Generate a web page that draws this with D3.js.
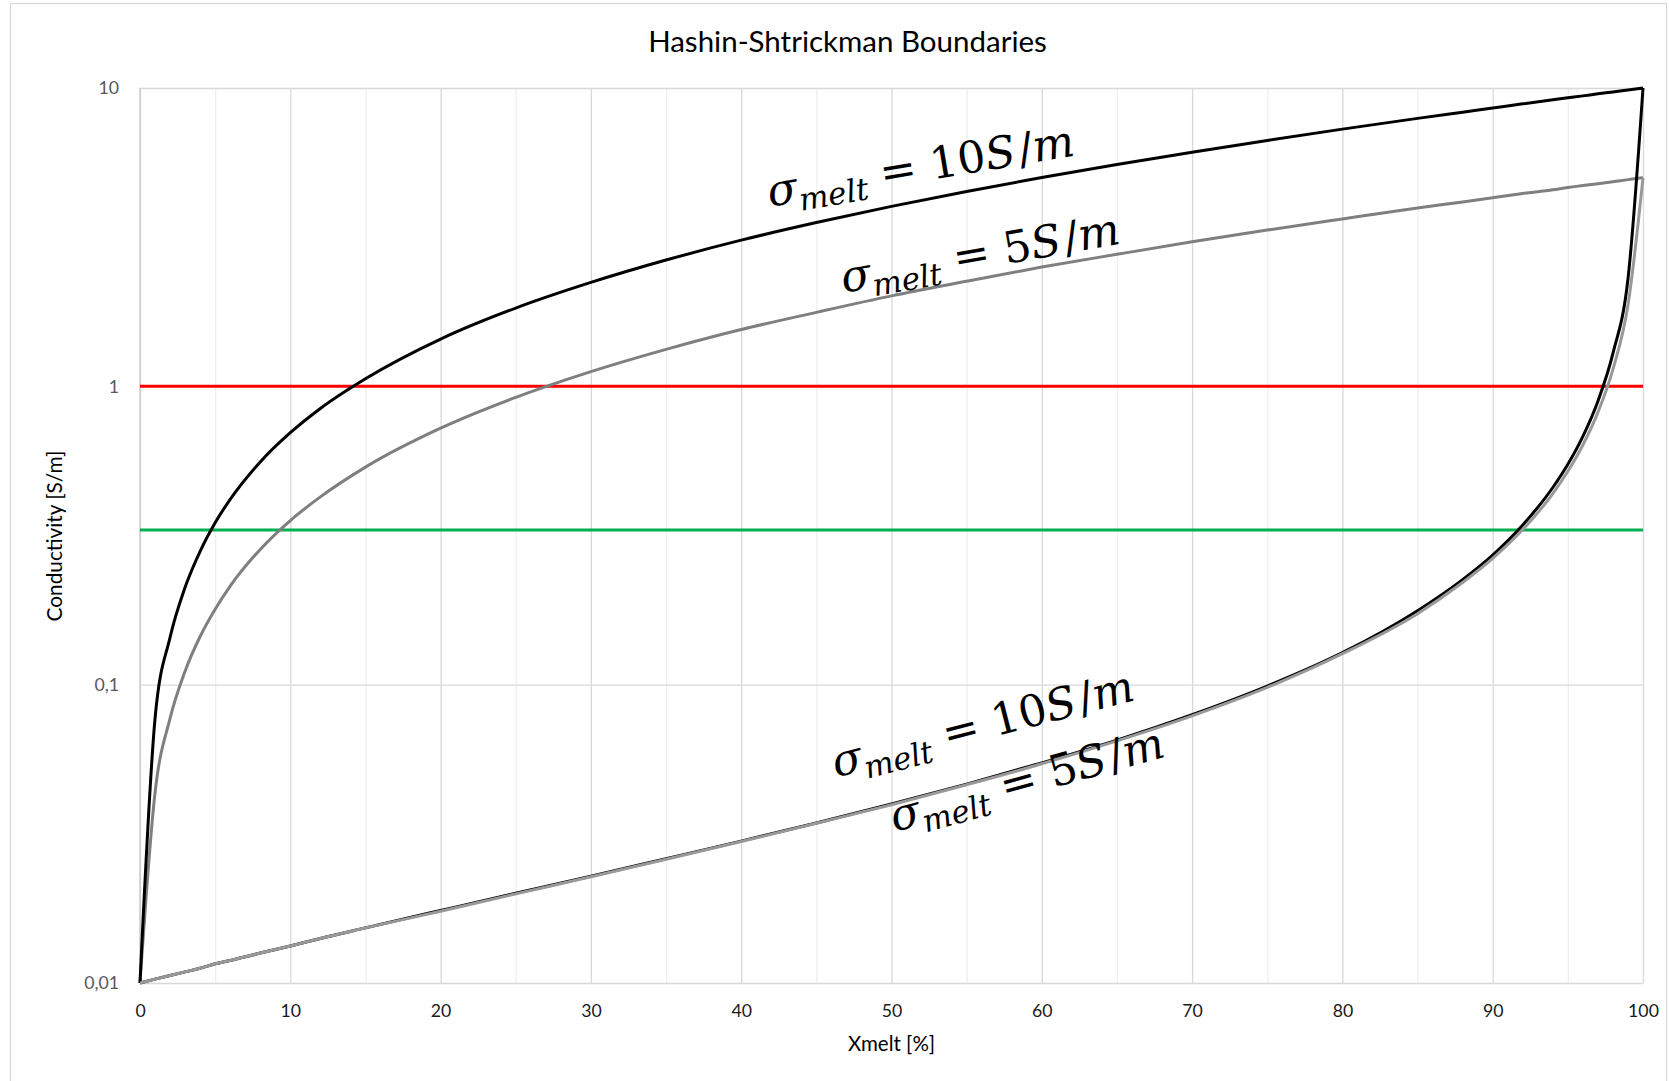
<!DOCTYPE html>
<html>
<head>
<meta charset="utf-8">
<script src="https://cdn.jsdelivr.net/npm/d3@7"></script>
<style>
  html, body { margin: 0; padding: 0; background: #fff; }
  svg { display: block; }
  text { font-family: Lato, "Open Sans", sans-serif; }
</style>
</head>
<body>
<svg id="chart" width="1669" height="1081"></svg>
<script>
// melt fraction [%] shared by all four boundary series
const xmelt = [0, 1, 2, 3, 4, 5, 6, 8, 10, 12, 15, 20, 25, 30, 35, 40, 45, 50, 55, 60,
  65, 70, 75, 80, 85, 88, 90, 92, 94, 95, 96, 97, 98, 99, 100];

// conductivity [S/m]
const upper10 = [0.01, 0.077, 0.144, 0.212, 0.28, 0.349, 0.418, 0.558, 0.699, 0.843,
  1.06, 1.44, 1.83, 2.23, 2.65, 3.09, 3.54, 4.01, 4.5, 5.01,
  5.54, 6.09, 6.67, 7.28, 7.91, 8.3, 8.57, 8.85, 9.13, 9.27, 9.41, 9.56, 9.7, 9.85, 10];
const lower10 = [0.01, 0.0103, 0.0106, 0.0109, 0.0112, 0.0116, 0.0119, 0.0126, 0.0133, 0.0141,
  0.0153, 0.0175, 0.02, 0.0228, 0.0261, 0.0299, 0.0344, 0.0398, 0.0464, 0.0547,
  0.0652, 0.0793, 0.0989, 0.128, 0.177, 0.225, 0.272, 0.343, 0.458, 0.548, 0.68, 0.892, 1.29, 2.29, 10];
const upper5 = [0.01, 0.0434, 0.0771, 0.111, 0.145, 0.179, 0.214, 0.284, 0.355, 0.426,
  0.536, 0.724, 0.918, 1.12, 1.33, 1.55, 1.77, 2.01, 2.25, 2.51,
  2.77, 3.05, 3.34, 3.64, 3.96, 4.15, 4.29, 4.43, 4.56, 4.64, 4.71, 4.78, 4.85, 4.93, 5];
const lower5 = [0.01, 0.0103, 0.0106, 0.0109, 0.0112, 0.0116, 0.0119, 0.0126, 0.0133, 0.0141,
  0.0153, 0.0174, 0.0199, 0.0227, 0.026, 0.0298, 0.0343, 0.0396, 0.0462, 0.0543,
  0.0648, 0.0786, 0.0979, 0.127, 0.173, 0.22, 0.265, 0.331, 0.437, 0.519, 0.636, 0.818, 1.14, 1.87, 5];

// horizontal reference levels [S/m]
const refLevels = [1, 0.33];

const xTicks = [0, 10, 20, 30, 40, 50, 60, 70, 80, 90, 100];
const xMinor = [5, 15, 25, 35, 45, 55, 65, 75, 85, 95];
const yTicks = [0.01, 0.1, 1, 10];
const yTickLabels = ["0,01", "0,1", "1", "10"];

const W = 1669, H = 1081;
const margin = { top: 88, right: 26, bottom: 98, left: 140 };
const plotW = W - margin.left - margin.right;
const plotH = H - margin.top - margin.bottom;

const svg = d3.select("#chart");

const x = d3.scaleLinear().domain([0, 100]).range([margin.left, W - margin.right]);
const y = d3.scaleLog().domain([0.01, 10]).range([H - margin.bottom, margin.top]);

// outer chart frame
svg.append("rect")
  .attr("x", 10.5).attr("y", 3.5)
  .attr("width", 1656).attr("height", 1090)
  .style("fill", "#fff")
  .style("stroke", "#d9d9d9")
  .style("stroke-width", 1.3);

// gridlines
const grid = svg.append("g").attr("class", "grid");
grid.append("g")
  .attr("transform", `translate(0, ${H - margin.bottom})`)
  .call(d3.axisBottom(x).tickValues(xMinor).tickSize(-plotH).tickFormat(""))
  .call((g) => g.select(".domain").remove())
  .selectAll("line").style("stroke", "#efefef").style("stroke-width", 1.3);
grid.append("g")
  .attr("transform", `translate(0, ${H - margin.bottom})`)
  .call(d3.axisBottom(x).tickValues(xTicks).tickSize(-plotH).tickFormat(""))
  .call((g) => g.select(".domain").remove())
  .selectAll("line").style("stroke", "#d9d9d9").style("stroke-width", 1.3);
grid.append("g")
  .attr("transform", `translate(${margin.left}, 0)`)
  .call(d3.axisLeft(y).tickValues(yTicks).tickSize(-plotW).tickFormat(""))
  .call((g) => g.select(".domain").remove())
  .selectAll("line").style("stroke", "#d9d9d9").style("stroke-width", 1.3);
svg.append("line")
  .attr("x1", x(0)).attr("x2", x(0))
  .attr("y1", y(10)).attr("y2", y(0.01))
  .style("stroke", "#c8c8c8").style("stroke-width", 1.3);

// tick labels
const xAxis = svg.append("g")
  .attr("transform", `translate(0, ${H - margin.bottom})`)
  .call(d3.axisBottom(x).tickValues(xTicks).tickSize(0).tickPadding(21.5));
xAxis.select(".domain").remove();
xAxis.selectAll("text")
  .style("font-family", "Lato, sans-serif")
  .style("font-size", "17.7px")
  .style("fill", "#1a1a1a");

const yAxis = svg.append("g")
  .attr("transform", `translate(${margin.left}, 0)`)
  .call(d3.axisLeft(y).tickValues(yTicks).tickFormat((d, i) => yTickLabels[i]).tickSize(0).tickPadding(21));
yAxis.select(".domain").remove();
yAxis.selectAll("text")
  .style("font-family", "Lato, sans-serif")
  .style("font-size", "17.7px")
  .style("fill", "#595959");

// reference lines
const refColors = ["#ff0000", "#00b050"];
svg.append("g")
  .selectAll("line")
  .data(refLevels)
  .enter()
  .append("line")
  .attr("x1", x(0)).attr("x2", x(100))
  .attr("y1", (d) => y(d)).attr("y2", (d) => y(d))
  .style("stroke", (d, i) => refColors[i])
  .style("stroke-width", 3);

// boundary curves
const series = [
  { values: upper5, color: "#7f7f7f" },
  { values: upper10, color: "#000000" },
  { values: lower10, color: "#000000" },
  { values: lower5, color: "#999999" },
];
const line = d3.line()
  .x((d) => x(d[0]))
  .y((d) => y(d[1]))
  .curve(d3.curveMonotoneX);
svg.append("g")
  .selectAll("path")
  .data(series)
  .enter()
  .append("path")
  .attr("d", (s) => line(xmelt.map((v, i) => [v, s.values[i]])))
  .style("fill", "none")
  .style("stroke", (s) => s.color)
  .style("stroke-width", 3)
  .style("stroke-linejoin", "round");

// equation labels on the curves
const labels = [
  { num: "10", x: 41.9, y: 4.0, angle: -9.5 },
  { num: "5", x: 46.8, y: 2.06, angle: -10 },
  { num: "10", x: 46.3, y: 0.0488, angle: -14.5 },
  { num: "5", x: 50.2, y: 0.0321, angle: -15.5 },
];
labels.map((l) => {
  const t = svg.append("text")
    .attr("transform", `translate(${x(l.x)}, ${y(l.y)}) rotate(${l.angle})`)
    .style("font-family", "'DejaVu Serif', serif")
    .style("font-size", "44px")
    .style("fill", "#000");
  t.append("tspan").style("font-style", "italic").text("σ");
  t.append("tspan").style("font-style", "italic").style("font-size", "31px").attr("dy", 9).text("melt");
  t.append("tspan").attr("dy", -9).text(" = " + l.num);
  t.append("tspan").style("font-style", "italic").text("S");
  t.append("tspan").attr("dx", 3).text("/");
  t.append("tspan").style("font-style", "italic").text("m");
});

// titles
svg.append("text")
  .attr("x", 847.5).attr("y", 52)
  .attr("text-anchor", "middle")
  .style("font-size", "29.5px")
  .style("fill", "#000")
  .text("Hashin-Shtrickman Boundaries");

svg.append("text")
  .attr("x", 891.5).attr("y", 1050.5)
  .attr("text-anchor", "middle")
  .style("font-size", "20.5px")
  .style("fill", "#000")
  .text("Xmelt [%]");

svg.append("text")
  .attr("transform", `translate(62, 536) rotate(-90)`)
  .attr("text-anchor", "middle")
  .style("font-size", "20.8px")
  .style("fill", "#000")
  .text("Conductivity [S/m]");
</script>
</body>
</html>
